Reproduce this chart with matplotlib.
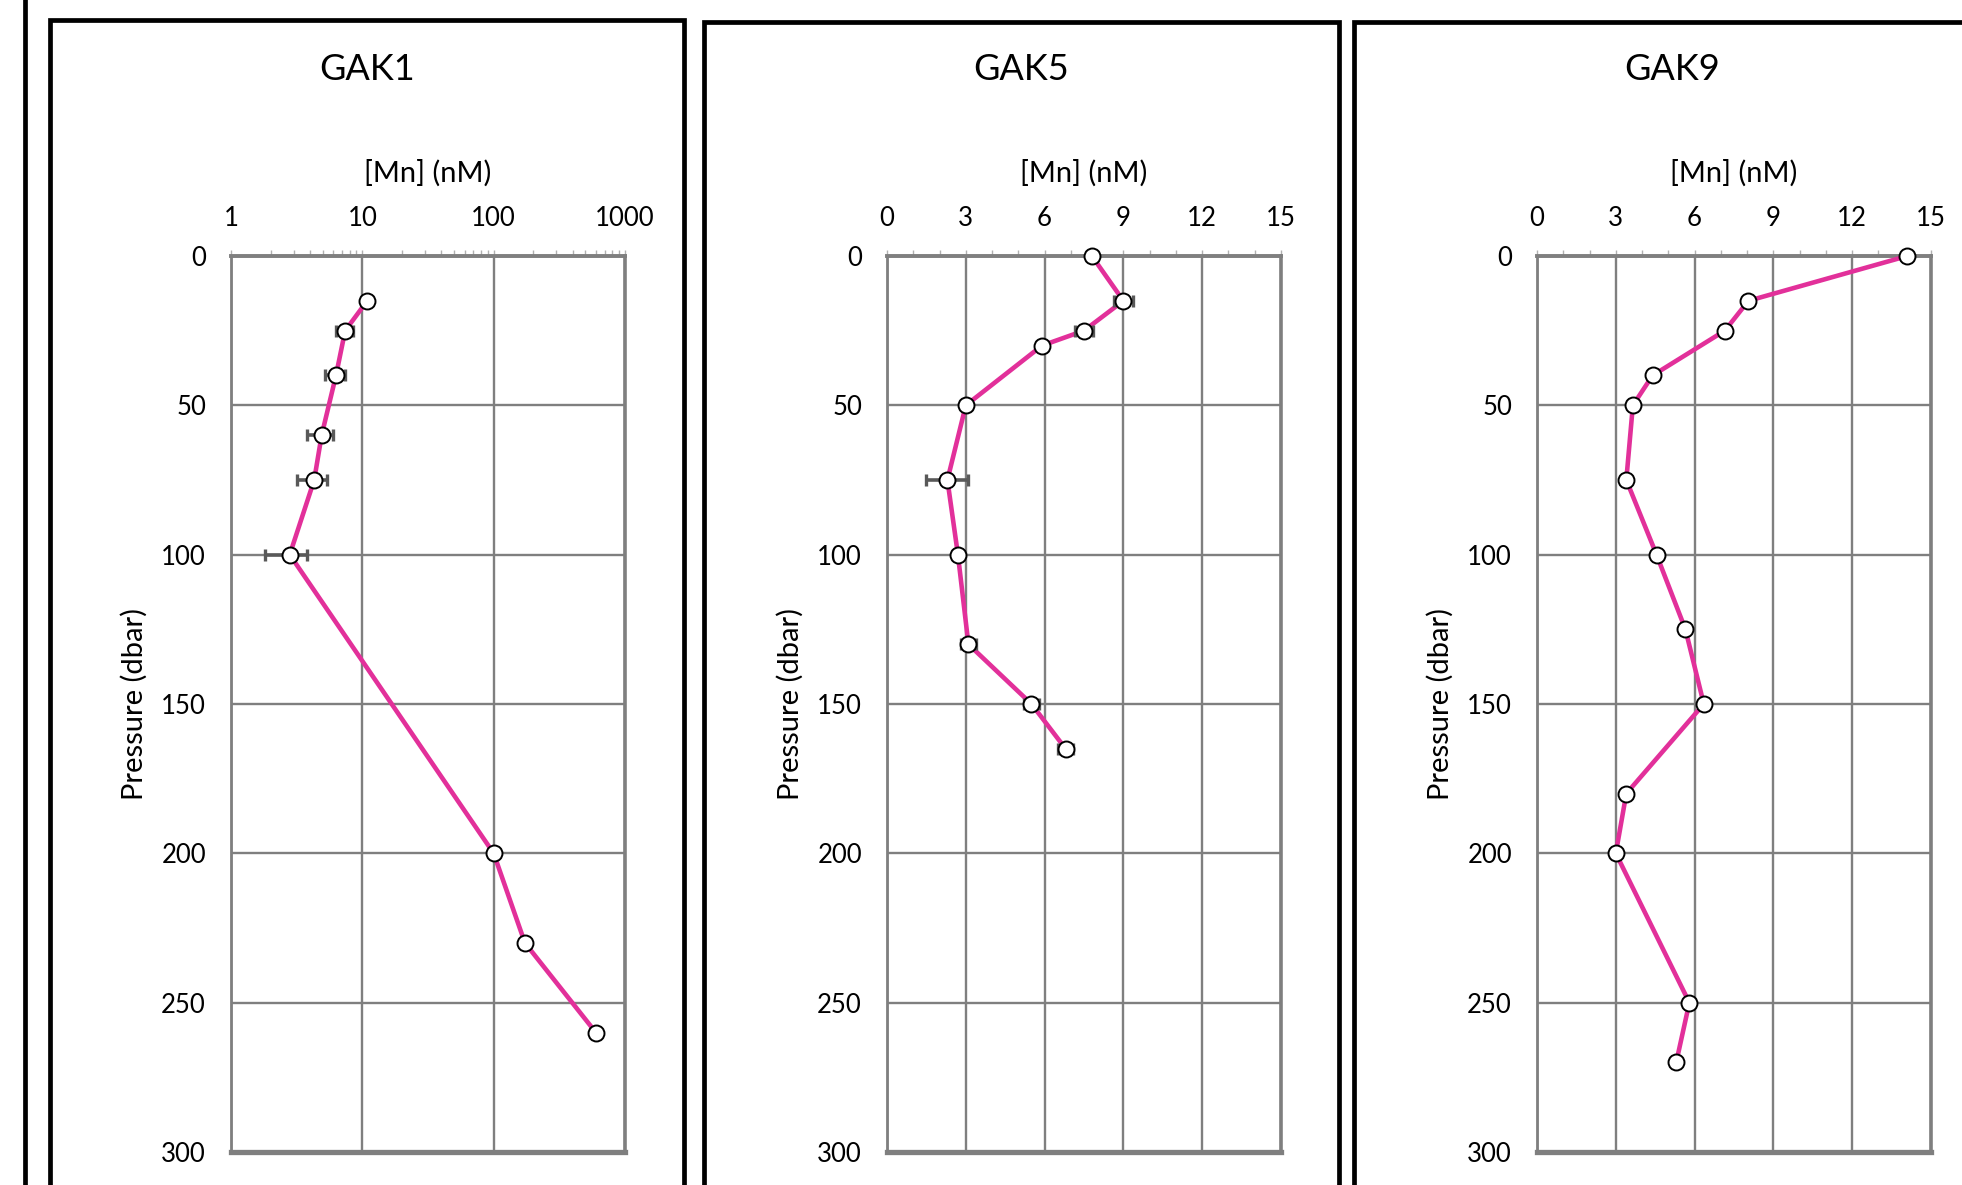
import matplotlib
matplotlib.use("Agg")
import matplotlib.pyplot as plt
import matplotlib.ticker as mticker
from matplotlib.patches import Rectangle
from matplotlib.lines import Line2D

plt.rcParams['font.family'] = ['Lato', 'DejaVu Sans']

# station profiles: dissolved Mn (nM) vs pressure (dbar)
stations = ["GAK1", "GAK5", "GAK9"]

gak1_pressure = [15, 25, 40, 60, 75, 100, 200, 230, 260]
gak1_mn = [10.9, 7.4, 6.3, 4.9, 4.3, 2.8, 100, 173, 600]
gak1_err = [1.0, 1.1, 1.1, 1.1, 1.1, 1.0, 1.0, 1.0, 1.0]

gak5_pressure = [0, 15, 25, 30, 50, 75, 100, 130, 150, 165]
gak5_mn = [7.8, 9.0, 7.5, 5.9, 3.0, 2.3, 2.7, 3.1, 5.5, 6.8]
gak5_err = [0.2, 0.35, 0.35, 0.2, 0.2, 0.8, 0.2, 0.3, 0.3, 0.3]

gak9_pressure = [0, 15, 25, 40, 50, 75, 100, 125, 150, 180, 200, 250, 270]
gak9_mn = [14.1, 8.05, 7.15, 4.4, 3.65, 3.4, 4.55, 5.65, 6.35, 3.4, 3.0, 5.8, 5.3]

log_ticks = [1, 10, 100, 1000]
lin_ticks = [0, 3, 6, 9, 12, 15]
y_ticks = [0, 50, 100, 150, 200, 250, 300]

LINE = '#E2309A'
GRID = '#7f7f7f'
W, H = 1962, 1185


def draw_profile(ax, mn, pres, err=None, log=False):
    ax.plot(mn, pres, color=LINE, lw=3.3, zorder=3, clip_on=False)
    if err is not None:
        ax.errorbar(mn, pres, xerr=err, fmt='none', ecolor='#595959',
                    elinewidth=2.6, capsize=4.5, capthick=2.4, zorder=4, clip_on=False)
    ax.plot(mn, pres, 'o', ms=11.5, mfc='white', mec='black', mew=1.4,
            zorder=5, clip_on=False)

    if log:
        ax.set_xscale('log')
        ax.set_xlim(1, 1000)
        ax.set_xticks(log_ticks)
        ax.set_xticklabels([str(t) for t in log_ticks])
        ax.xaxis.set_minor_locator(mticker.LogLocator(base=10, subs=range(2, 10)))
        ax.xaxis.set_minor_formatter(mticker.NullFormatter())
    else:
        ax.set_xlim(0, 15)
        ax.set_xticks(lin_ticks)
        ax.xaxis.set_minor_locator(mticker.MultipleLocator(1))

    ax.set_ylim(300, 0)
    ax.set_yticks(y_ticks)

    ax.xaxis.tick_top()
    ax.tick_params(axis='x', which='both', direction='out', length=4,
                   width=1, color='#b0b0b0', labelsize=18.5, pad=14)
    ax.tick_params(axis='y', length=0, labelsize=18.5, pad=18)

    ax.grid(True, which='major', color=GRID, lw=1.7)
    ax.set_axisbelow(True)

    for side, lw in [('left', 2.0), ('top', 2.8), ('right', 2.6), ('bottom', 3.8)]:
        ax.spines[side].set_color(GRID)
        ax.spines[side].set_linewidth(lw)

    ax.text(-0.246, 0.5, 'Pressure (dbar)', rotation=90, ha='center', va='center',
            fontsize=21, transform=ax.transAxes)


fig = plt.figure(figsize=(W / 100, H / 100), dpi=100)

# panel frames (px from left / top), running off the bottom of the image
frames = [(50, 684, 20), (704, 1339, 22), (1354, 1990, 22)]
for x0, x1, top in frames:
    fig.patches.append(Rectangle((x0 / W, -0.1), (x1 - x0) / W, 1.1 - top / H,
                                 transform=fig.transFigure, fill=False,
                                 ec='black', lw=3.4))
fig.lines.append(Line2D([25 / W, 25 / W], [0, 1], transform=fig.transFigure,
                        color='black', lw=3.4))

ax_lefts = [231, 887, 1537]
ax_top, ax_bottom, ax_w = 256, 1152, 394
axes = []
for left in ax_lefts:
    ax = fig.add_axes([left / W, 1 - ax_bottom / H, ax_w / W, (ax_bottom - ax_top) / H])
    axes.append(ax)

draw_profile(axes[0], gak1_mn, gak1_pressure, gak1_err, log=True)
draw_profile(axes[1], gak5_mn, gak5_pressure, gak5_err)
draw_profile(axes[2], gak9_mn, gak9_pressure)

for (x0, x1, top), left, name in zip(frames, ax_lefts, stations):
    fig.text((x0 + x1) / 2 / W, 1 - 69 / H, name, ha='center', va='center', fontsize=26)
    fig.text((left + ax_w / 2) / W, 1 - 173 / H, '[Mn] (nM)', ha='center',
             va='center', fontsize=21)

fig.savefig('out.png', dpi=100)
